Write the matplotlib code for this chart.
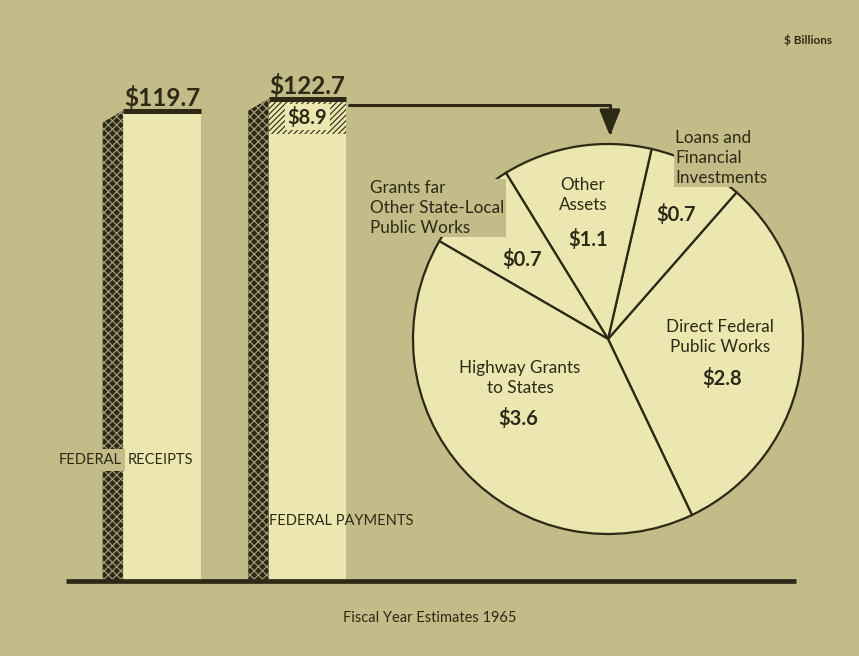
import matplotlib
matplotlib.use("Agg")
import matplotlib.pyplot as plt
from matplotlib.patches import Polygon
import numpy as np

# --- data ($ billions, fiscal year estimates 1965) ---
bar_names = ['FEDERAL RECEIPTS', 'FEDERAL PAYMENTS']
bar_totals = [119.7, 122.7]
public_works = 8.9  # part of payments broken out in the pie

pie_labels = ['Direct Federal\nPublic Works',
              'Loans and\nFinancial\nInvestments',
              'Other\nAssets',
              'Grants far\nOther State-Local\nPublic Works',
              'Highway Grants\nto States']
pie_values = [2.8, 0.7, 1.1, 0.7, 3.6]

# colours
BG = '#c3bc88'
PALE = '#ece7b0'
INK = '#2e2916'

plt.rcParams['font.family'] = ['Lato', 'DejaVu Sans']
plt.rcParams['hatch.linewidth'] = 0.8

W, H = 859, 656
fig = plt.figure(figsize=(W / 100, H / 100), dpi=100, facecolor=BG)

# --- bars ---
base_px = 581       # pixel row of the baseline
px_per_unit = 3.93  # pixels per $ billion
x0_px, x_step = 162, 145.5
ax = fig.add_axes([0, (H - base_px) / H, 1, base_px / H])
ax.axis('off')
ax.set_xlim(-x0_px / x_step, (W - x0_px) / x_step)
ax.set_ylim(0, base_px / px_per_unit)

xs = np.arange(len(bar_totals))
bw = 0.535   # pale face
sw = 0.14    # dark shaded side
ax.bar(xs, bar_totals, width=bw, color=PALE, lw=0, zorder=2)
for x, v in zip(xs, bar_totals):
    left = x - bw / 2 - sw
    side = Polygon([(left, 0), (left, v - 3.0), (left + sw, v), (left + sw, 0)],
                   closed=True, facecolor=INK, edgecolor='#a8a27c',
                   hatch='xxxx', lw=0, zorder=3)
    ax.add_patch(side)
ax.hlines(bar_totals, xs - bw / 2, xs + bw / 2, color=INK, lw=3.6, zorder=5)
for x, v in zip(xs, bar_totals):
    ax.text(x, v + 1.2, f'${v}', ha='center', va='baseline',
            fontsize=17.5, fontweight='bold', color=INK, zorder=6)

# public works part of payments
ax.bar(xs[1], public_works, bottom=bar_totals[1] - public_works, width=bw,
       color=PALE, hatch='//////', edgecolor=INK, lw=0, zorder=3)
ax.text(xs[1], bar_totals[1] - public_works / 2 - 0.2, f'${public_works}',
        ha='center', va='center', fontsize=14.5, fontweight='bold', color=INK,
        zorder=6, bbox=dict(boxstyle='square,pad=0.12', fc=PALE, ec='none'))

# bar names (the first word interrupts the shaded side)
first, rest = bar_names[0].split(' ', 1)
ax.text(xs[0] - 0.28, 30.8, first, ha='right', va='center', fontsize=10.5,
        color=INK, zorder=6,
        bbox=dict(boxstyle='square,pad=0.25', fc=BG, ec='none'))
ax.text(xs[0] - 0.235, 30.8, rest, ha='left', va='center', fontsize=10.5,
        color=INK, zorder=6)
ax.text(xs[1] - bw / 2, 15.3, bar_names[1], ha='left', va='center',
        fontsize=10.5, color=INK, zorder=6)

# baseline
ax.hlines(0, xs[0] - 0.66, xs[-1] + 3.36, color=INK, lw=3.4, zorder=7,
          clip_on=False)

# --- pie ---
cx, cy, r = 608, 339, 195
pax = fig.add_axes([(cx - r) / W, (H - cy - r) / H, 2 * r / W, 2 * r / H])
pax.pie(pie_values, startangle=-64.5, counterclock=True,
        colors=[PALE] * len(pie_values),
        wedgeprops=dict(edgecolor=INK, linewidth=1.6))
pax.set_xlim(-1, 1)
pax.set_ylim(-1, 1)
pax.set_aspect('equal')
pax.axis('off')

label_xy = [(0.574, 0.01), (0.344, 0.928), (-0.128, 0.738), (-1.22, 0.672), (-0.451, -0.2)]
label_ha = ['center', 'left', 'center', 'left', 'center']
value_xy = [(0.585, -0.205), (0.349, 0.636), (-0.103, 0.508), (-0.441, 0.41), (-0.462, -0.41)]
outside = [False, True, False, True, False]

for lab, (lx, ly), ha, (vx, vy), vv, out in zip(pie_labels, label_xy, label_ha,
                                               value_xy, pie_values, outside):
    bbox = dict(boxstyle='square,pad=0.08', fc=BG, ec='none') if out else None
    pax.text(lx, ly, lab, ha=ha, va='center', ma=ha, fontsize=12.3,
             linespacing=1.3, color=INK, zorder=10, bbox=bbox)
    pax.text(vx, vy, f'${vv}', ha='center', va='center', fontsize=14.5,
             fontweight='bold', color=INK, zorder=10)

# arrow from the payments bar to the pie
pax.annotate('', xy=(0.01, 1.04), xycoords='data',
             xytext=(xs[1] + bw / 2 + 0.02, bar_totals[1] - 1.6),
             textcoords=ax.transData, annotation_clip=False,
             arrowprops=dict(arrowstyle='-|>,head_length=0.8,head_width=0.32',
                             connectionstyle='angle,angleA=0,angleB=90,rad=0',
                             color=INK, lw=2.2, mutation_scale=20,
                             shrinkA=0, shrinkB=0))

# --- footer / units ---
fig.text(808 / W, 1 - 40 / H, '$ Billions', ha='center', va='center',
         fontsize=8.5, fontweight='bold', color=INK)
fig.text(430 / W, 1 - 618 / H, 'Fiscal Year Estimates 1965', ha='center',
         va='center', fontsize=10.5, color=INK)

fig.savefig('out.png', dpi=100, facecolor=BG)
